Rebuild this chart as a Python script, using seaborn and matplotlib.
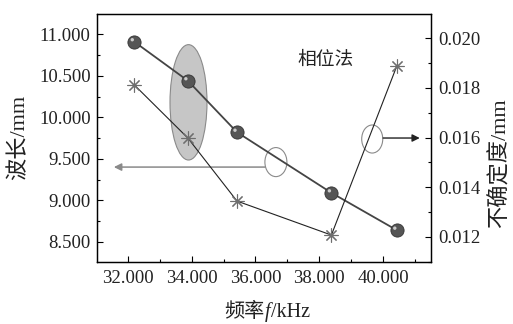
import numpy as np
import pandas as pd
import matplotlib
matplotlib.use("Agg")
import matplotlib.pyplot as plt
import matplotlib.transforms as mtransforms
from matplotlib.patches import Ellipse
from matplotlib.ticker import MultipleLocator, FormatStrFormatter
from matplotlib.offsetbox import TextArea, HPacker, AnchoredOffsetbox
import seaborn as sns

# data
freq_khz = [32.2, 33.88, 35.42, 38.38, 40.43]
wavelength_mm = [10.91, 10.44, 9.82, 9.09, 8.64]
uncertainty_mm = [0.01812, 0.01598, 0.01344, 0.01207, 0.01888]

FONTS = ['Liberation Serif', 'Noto Sans CJK SC']

sns.set_theme(style='ticks')
plt.rcParams['font.family'] = FONTS
plt.rcParams['axes.edgecolor'] = 'black'
plt.rcParams['axes.linewidth'] = 0.9

fig = plt.figure(figsize=(5.13, 3.24), dpi=100)
ax = fig.add_axes([0.189, 0.191, 0.651, 0.766])
ax2 = ax.twinx()

df = pd.DataFrame({'freq': freq_khz, 'wave': wavelength_mm, 'unc': uncertainty_mm})

# big shaded ellipse around the second points
ax.add_patch(Ellipse((33.9, 10.18), 1.16, 1.39, facecolor='#c6c6c6',
                     edgecolor='#8a8a8a', lw=0.8, zorder=1))

# wavelength series (shaded spheres)
sns.lineplot(data=df, x='freq', y='wave', ax=ax, color='#444444', lw=1.3,
             marker='o', markersize=9.5, markerfacecolor='#555555',
             markeredgecolor='#333333', markeredgewidth=0.6, zorder=3)
hl = mtransforms.offset_copy(ax.transData, fig=fig, x=-2, y=2, units='dots')
ax.scatter(df['freq'], df['wave'], s=6, color='#cccccc', edgecolor='none',
           transform=hl, zorder=4)

# uncertainty series (asterisks)
sns.lineplot(data=df, x='freq', y='unc', ax=ax2, color='#222222', lw=0.8,
             marker=(8, 2, 0), markersize=10, markeredgecolor='#6e6e6e',
             markeredgewidth=0.8, zorder=3)

# small open ellipses with arrows
ax.add_patch(Ellipse((36.64, 9.46), 0.69, 0.35, facecolor='none',
                     edgecolor='#8a8a8a', lw=0.8, zorder=2))
ax.annotate('', xy=(31.56, 9.40), xytext=(36.3, 9.40),
            arrowprops=dict(arrowstyle='-|>', color='#8a8a8a', lw=1.1,
                            mutation_scale=11, shrinkA=0, shrinkB=0))
ax2.add_patch(Ellipse((39.66, 0.01594), 0.66, 0.00113, facecolor='none',
                      edgecolor='#8a8a8a', lw=0.8, zorder=2))
ax2.annotate('', xy=(41.15, 0.01598), xytext=(40.0, 0.01598),
             arrowprops=dict(arrowstyle='-|>', color='#222222', lw=1.0,
                             mutation_scale=11, shrinkA=0, shrinkB=0))

ax.text(0.686, 0.815, '相位法', transform=ax.transAxes, ha='center',
        va='center', fontsize=13.5, color='#222222')

# axes limits and ticks
ax.set_xlim(31.03, 41.5)
ax.set_ylim(8.255, 11.245)
ax2.set_ylim(0.01098, 0.02098)

ax.xaxis.set_major_locator(MultipleLocator(2))
ax.xaxis.set_minor_locator(MultipleLocator(1))
ax.xaxis.set_major_formatter(FormatStrFormatter('%.3f'))
ax.yaxis.set_major_locator(MultipleLocator(0.5))
ax.yaxis.set_minor_locator(MultipleLocator(0.25))
ax.yaxis.set_major_formatter(FormatStrFormatter('%.3f'))
ax2.yaxis.set_major_locator(MultipleLocator(0.002))
ax2.yaxis.set_minor_locator(MultipleLocator(0.001))
ax2.yaxis.set_major_formatter(FormatStrFormatter('%.3f'))

for a in (ax, ax2):
    a.tick_params(which='both', direction='in', colors='black',
                  labelsize=13.5, labelcolor='#222222')
    a.tick_params(which='major', length=4, width=0.8)
    a.tick_params(which='minor', length=2.5, width=0.8)
    a.set_xlabel('')
    a.set_ylabel('')
ax.tick_params(axis='x', pad=6)
ax.tick_params(axis='y', pad=4.5)
ax2.tick_params(axis='y', pad=5)
ax.tick_params(top=False, which='both')
ax2.tick_params(axis='x', which='both', top=False, bottom=False)

for a in (ax, ax2):
    for s in a.spines.values():
        s.set_color('black')
        s.set_linewidth(0.9)

# axis labels
ax.text(-0.232, 0.504, '波长/mm', transform=ax.transAxes, rotation=90,
        ha='center', va='center', fontsize=16, color='#222222')
ax.text(1.208, 0.40, '不确定度/mm', transform=ax.transAxes, rotation=90,
        ha='center', va='center', fontsize=16, color='#222222')

parts = [TextArea('频率', textprops=dict(fontsize=14.5, color='#222222', family=FONTS)),
         TextArea('f', textprops=dict(fontsize=14.5, color='#222222', style='italic', family=FONTS)),
         TextArea('/kHz', textprops=dict(fontsize=14.5, color='#222222', family=FONTS))]
box = HPacker(children=parts, align='baseline', pad=0, sep=0.5)
anchored = AnchoredOffsetbox(loc='center', child=box, pad=0, frameon=False,
                             bbox_to_anchor=(0.51, -0.2), bbox_transform=ax.transAxes,
                             borderpad=0)
ax.add_artist(anchored)

fig.savefig('out.png', dpi=100)
